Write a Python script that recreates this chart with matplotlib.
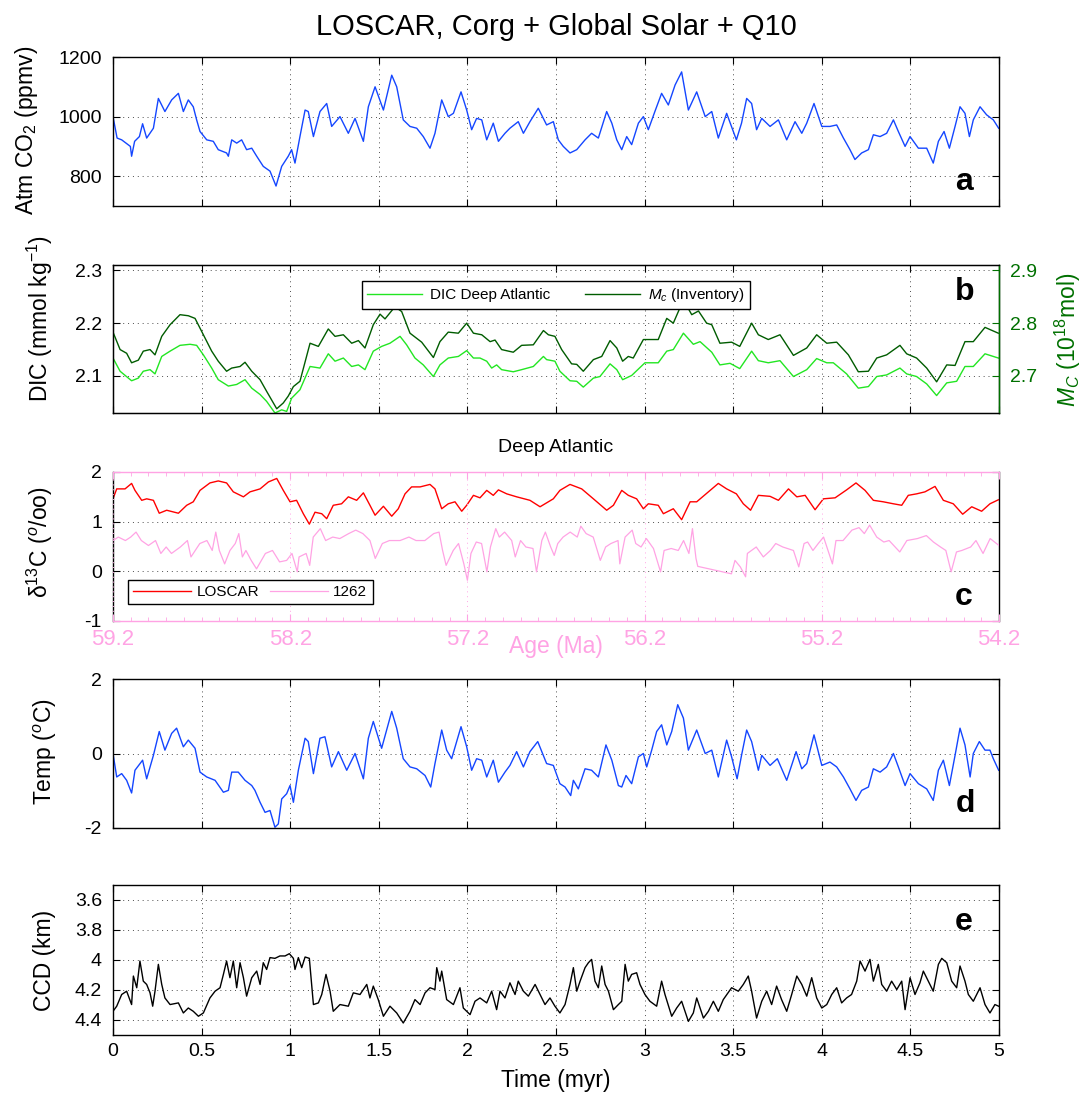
"""LOSCAR run (Corg + Global Solar + Q10): five stacked time-series panels.
Run: python plot.py  -> out.png"""
import matplotlib
matplotlib.use("Agg")
import matplotlib.pyplot as plt
from matplotlib.ticker import FormatStrFormatter, MultipleLocator

plt.rcParams.update({
    "font.family": ["Liberation Sans", "DejaVu Sans"],
    "mathtext.fontset": "custom", "mathtext.rm": "Liberation Sans",
    "mathtext.it": "Liberation Sans:italic", "mathtext.bf": "Liberation Sans:bold",
    "axes.unicode_minus": False,
})
BLUE, LGREEN, DGREEN, AXGREEN = "#1446ff", "#22e622", "#005c00", "#007000"
RED, PINK = "#ff0000", "#ffa3e4"

# ---- data ----
TIME_TICKS = [0, 0.5, 1, 1.5, 2, 2.5, 3, 3.5, 4, 4.5, 5]
AGE_TICKS = [59.2, 58.2, 57.2, 56.2, 55.2, 54.2]

co2_time = [0.000, 0.023, 0.049, 0.098, 0.105, 0.122, 0.149, 0.167, 0.190, 0.228,
            0.256, 0.293, 0.331, 0.369, 0.397, 0.425, 0.453, 0.472, 0.491, 0.529,
            0.566, 0.594, 0.641, 0.651, 0.670, 0.698, 0.726, 0.754, 0.783, 0.811,
            0.848, 0.886, 0.920, 0.952, 0.989, 1.008, 1.027, 1.055, 1.084, 1.102,
            1.131, 1.168, 1.206, 1.234, 1.281, 1.328, 1.366, 1.413, 1.441, 1.479,
            1.526, 1.573, 1.601, 1.638, 1.676, 1.714, 1.751, 1.789, 1.817, 1.855,
            1.892, 1.921, 1.964, 1.996, 2.024, 2.052, 2.081, 2.109, 2.146, 2.175,
            2.212, 2.240, 2.287, 2.316, 2.353, 2.400,
            2.447, 2.485, 2.513, 2.541, 2.579, 2.617, 2.664, 2.701, 2.739, 2.786,
            2.815, 2.843, 2.871, 2.899, 2.927, 2.965, 2.993, 3.021, 3.058, 3.096,
            3.134, 3.172, 3.209, 3.247, 3.294, 3.342, 3.379, 3.416, 3.463, 3.518,
            3.547, 3.576, 3.604, 3.632, 3.661, 3.708, 3.755, 3.802, 3.849, 3.887,
            3.915, 3.956, 4.000, 4.046, 4.084, 4.122, 4.159, 4.187, 4.225, 4.263,
            4.291, 4.329, 4.366, 4.404, 4.432, 4.470, 4.498, 4.545, 4.592, 4.629,
            4.658, 4.690, 4.720, 4.752, 4.780, 4.808, 4.833, 4.855, 4.893, 4.930,
            4.968, 4.998]
co2 = [1000, 928, 922, 900, 867, 917, 933, 976, 928, 961,
       1061, 1017, 1056, 1078, 1017, 1056, 1033, 989, 950, 922,
       917, 889, 878, 867, 922, 911, 922, 889, 894, 867,
       833, 817, 767, 833, 867, 889, 844, 933, 1022, 1017,
       933, 1017, 1044, 967, 1000, 944, 994, 917, 1033, 1100,
       1022, 1139, 1100, 989, 967, 961, 933, 894, 944, 1056,
       1000, 1011, 1083, 1022, 956, 994, 989, 922, 978, 917,
       944, 961, 983, 944, 983, 1028,
       972, 983, 922, 900, 878, 889, 922, 944, 928, 1017,
       978, 922, 889, 933, 906, 978, 1000, 956, 1017, 1078,
       1039, 1106, 1150, 1022, 1083, 1000, 1017, 928, 1011, 922,
       978, 1061, 1044, 956, 994, 967, 989, 922, 983, 944,
       978, 1044, 967, 967, 972, 928, 889, 856, 878, 889,
       939, 933, 944, 989, 950, 900, 933, 894, 894, 844,
       917, 950, 894, 967, 1033, 1011, 933, 989, 1033, 1006,
       989, 961]

dic_time = [0.000, 0.040, 0.105, 0.143, 0.171, 0.209, 0.237, 0.275, 0.322, 0.378,
            0.435, 0.472, 0.510, 0.557, 0.594, 0.651, 0.698, 0.745, 0.783, 0.830,
            0.867, 0.914, 0.952, 0.980, 1.008, 1.055, 1.112, 1.168, 1.215, 1.253,
            1.300, 1.347, 1.385, 1.422, 1.469, 1.516, 1.563, 1.620, 1.657, 1.704,
            1.751, 1.808, 1.845, 1.892, 1.949, 1.996, 2.034, 2.071, 2.109, 2.137,
            2.165, 2.193, 2.259, 2.306, 2.372, 2.429,
            2.447, 2.494, 2.522, 2.579, 2.617, 2.654, 2.711, 2.748, 2.805, 2.843,
            2.876, 2.927, 3.002, 3.077, 3.125, 3.162, 3.219, 3.275, 3.313, 3.379,
            3.425, 3.482, 3.537, 3.604, 3.642, 3.698, 3.764, 3.840, 3.915, 3.971,
            4.028, 4.065, 4.140, 4.206, 4.263, 4.310, 4.366, 4.441, 4.479, 4.535,
            4.592, 4.648, 4.705, 4.761, 4.808, 4.855, 4.921, 4.996]
dic_deep_atl = [2.134, 2.109, 2.091, 2.096, 2.109, 2.112, 2.104, 2.137, 2.147, 2.158,
                2.160, 2.158, 2.140, 2.115, 2.093, 2.081, 2.084, 2.093, 2.077, 2.065,
                2.052, 2.030, 2.036, 2.033, 2.058, 2.074, 2.118, 2.115, 2.142, 2.128,
                2.134, 2.118, 2.121, 2.112, 2.147, 2.156, 2.162, 2.175, 2.159, 2.134,
                2.121, 2.099, 2.121, 2.134, 2.137, 2.148, 2.134, 2.134, 2.128, 2.115,
                2.121, 2.112, 2.108, 2.112, 2.118, 2.137,
                2.131, 2.128, 2.109, 2.091, 2.090, 2.079, 2.096, 2.099, 2.123, 2.112,
                2.093, 2.101, 2.125, 2.125, 2.147, 2.150, 2.181, 2.160, 2.165, 2.145,
                2.121, 2.124, 2.114, 2.147, 2.129, 2.125, 2.129, 2.099, 2.112, 2.133,
                2.125, 2.125, 2.104, 2.077, 2.080, 2.099, 2.102, 2.115, 2.104, 2.099,
                2.085, 2.063, 2.087, 2.090, 2.118, 2.118, 2.142, 2.134]

mc_time = [0.000, 0.040, 0.077, 0.105, 0.143, 0.171, 0.209, 0.237, 0.275, 0.322,
           0.378, 0.425, 0.463, 0.510, 0.557, 0.594, 0.641, 0.670, 0.717, 0.745,
           0.783, 0.830, 0.867, 0.924, 0.961, 0.989, 1.018, 1.055, 1.112, 1.159,
           1.215, 1.253, 1.300, 1.347, 1.385, 1.422, 1.469, 1.507, 1.535, 1.591,
           1.629, 1.676, 1.742, 1.808, 1.845, 1.892, 1.949, 1.996, 2.034, 2.081,
           2.128, 2.156, 2.193, 2.259, 2.306, 2.372, 2.429,
           2.457, 2.494, 2.532, 2.588, 2.617, 2.654, 2.711, 2.758, 2.805, 2.843,
           2.876, 2.908, 2.936, 2.993, 3.077, 3.125, 3.162, 3.219, 3.266, 3.304,
           3.350, 3.379, 3.425, 3.491, 3.537, 3.604, 3.642, 3.698, 3.764, 3.840,
           3.915, 3.971, 4.028, 4.084, 4.150, 4.206, 4.263, 4.310, 4.366, 4.441,
           4.479, 4.535, 4.592, 4.648, 4.705, 4.752, 4.808, 4.855, 4.921, 4.996]
mc_inventory = [2.783, 2.750, 2.743, 2.725, 2.730, 2.747, 2.750, 2.740, 2.775, 2.797,
                2.816, 2.814, 2.809, 2.778, 2.747, 2.728, 2.709, 2.715, 2.718, 2.726,
                2.709, 2.693, 2.671, 2.638, 2.649, 2.662, 2.680, 2.690, 2.762, 2.756,
                2.789, 2.775, 2.778, 2.762, 2.767, 2.753, 2.797, 2.817, 2.808, 2.831,
                2.822, 2.781, 2.764, 2.735, 2.765, 2.783, 2.781, 2.800, 2.781, 2.778,
                2.765, 2.768, 2.750, 2.745, 2.758, 2.759, 2.786,
                2.778, 2.775, 2.750, 2.723, 2.722, 2.709, 2.731, 2.737, 2.767, 2.753,
                2.728, 2.737, 2.734, 2.769, 2.769, 2.809, 2.800, 2.844, 2.816, 2.823,
                2.800, 2.797, 2.762, 2.764, 2.756, 2.800, 2.778, 2.769, 2.778, 2.739,
                2.753, 2.778, 2.762, 2.764, 2.740, 2.708, 2.709, 2.734, 2.740, 2.758,
                2.742, 2.734, 2.715, 2.689, 2.721, 2.720, 2.765, 2.765, 2.792, 2.781]

loscar_time = [0.000, 0.021, 0.068, 0.105, 0.124, 0.162, 0.190, 0.228, 0.261, 0.303,
               0.369, 0.416, 0.453, 0.491, 0.547, 0.594, 0.641, 0.679, 0.736, 0.773,
               0.830, 0.877, 0.924, 0.961, 0.999, 1.036, 1.074, 1.108, 1.140, 1.178,
               1.206, 1.243, 1.290, 1.328, 1.375, 1.413, 1.450, 1.479, 1.526, 1.573,
               1.610, 1.648, 1.685, 1.733, 1.789, 1.817, 1.855, 1.892, 1.930, 1.968,
               1.996, 2.034, 2.071, 2.109, 2.146, 2.175, 2.222, 2.278, 2.353, 2.410,
               2.485, 2.522, 2.579, 2.645, 2.711, 2.786, 2.824, 2.871, 2.908, 2.955,
               2.993, 3.021, 3.077, 3.106, 3.162, 3.209, 3.257, 3.294, 3.360, 3.416,
               3.463, 3.518, 3.557, 3.598, 3.642, 3.708, 3.755, 3.812, 3.859, 3.906,
               3.962, 4.009, 4.075, 4.140, 4.193, 4.244, 4.291, 4.347, 4.404, 4.451,
               4.488, 4.535, 4.582, 4.639, 4.686, 4.742, 4.795, 4.846, 4.902, 4.949,
               4.996]
d13c_loscar = [1.46, 1.66, 1.66, 1.77, 1.63, 1.43, 1.46, 1.43, 1.17, 1.23,
               1.17, 1.33, 1.40, 1.63, 1.78, 1.82, 1.78, 1.60, 1.50, 1.60,
               1.66, 1.80, 1.87, 1.63, 1.40, 1.43, 1.16, 0.95, 1.19, 1.16,
               1.06, 1.33, 1.36, 1.50, 1.43, 1.58, 1.33, 1.13, 1.31, 1.11,
               1.26, 1.56, 1.70, 1.70, 1.75, 1.66, 1.26, 1.36, 1.40, 1.21,
               1.33, 1.53, 1.48, 1.63, 1.53, 1.64, 1.56, 1.50, 1.43, 1.30,
               1.46, 1.63, 1.75, 1.66, 1.46, 1.23, 1.33, 1.63, 1.53, 1.46,
               1.26, 1.36, 1.33, 1.16, 1.26, 1.04, 1.40, 1.40, 1.60, 1.77,
               1.66, 1.56, 1.36, 1.23, 1.53, 1.51, 1.43, 1.66, 1.50, 1.53,
               1.24, 1.46, 1.48, 1.64, 1.78, 1.63, 1.43, 1.40, 1.36, 1.33,
               1.53, 1.56, 1.60, 1.71, 1.43, 1.36, 1.15, 1.30, 1.21, 1.36,
               1.44]

site1262_age = [59.20, 59.17, 59.13, 59.10, 59.07, 59.04, 59.00, 58.96, 58.93, 58.90,
                58.87, 58.82, 58.78, 58.76, 58.71, 58.67, 58.64, 58.62, 58.60, 58.57,
                58.54, 58.51, 58.49, 58.47, 58.45, 58.42, 58.39, 58.34, 58.30, 58.26,
                58.22, 58.19, 58.16, 58.15, 58.11, 58.09, 58.07, 58.03, 58.00, 57.96,
                57.92, 57.87, 57.83, 57.79, 57.75, 57.72, 57.68, 57.64, 57.58, 57.53,
                57.49, 57.44, 57.39, 57.36, 57.34, 57.32, 57.28, 57.25, 57.22, 57.20,
                57.18, 57.15, 57.12, 57.09, 57.07, 57.04, 57.02, 56.99, 56.95, 56.93,
                56.90, 56.87, 56.83, 56.81, 56.78, 56.76, 56.73, 56.71,
                56.69, 56.66, 56.62, 56.58, 56.56, 56.53, 56.49, 56.45, 56.42, 56.39,
                56.35, 56.34, 56.31, 56.27, 56.25, 56.22, 56.19, 56.15, 56.11, 56.09,
                56.05, 56.01, 55.98, 55.95, 55.93, 55.91, 55.90, 55.71, 55.69, 55.66,
                55.63, 55.62, 55.57, 55.53, 55.49, 55.46, 55.42, 55.36, 55.33, 55.30,
                55.28, 55.25, 55.22, 55.19, 55.14, 55.12, 55.08, 55.03, 54.99, 54.96,
                54.93, 54.89, 54.85, 54.82, 54.76, 54.72, 54.66, 54.61, 54.57, 54.53,
                54.50, 54.47, 54.44, 54.41, 54.36, 54.33, 54.29, 54.25, 54.20]
d13c_1262 = [0.62, 0.69, 0.62, 0.69, 0.79, 0.62, 0.52, 0.62, 0.36, 0.49,
             0.36, 0.49, 0.62, 0.29, 0.56, 0.62, 0.42, 0.79, 0.42, 0.15,
             0.42, 0.56, 0.76, 0.29, 0.42, 0.22, 0.05, 0.36, 0.42, 0.19,
             0.22, 0.36, -0.01, 0.29, 0.36, 0.12, 0.69, 0.86, 0.62, 0.69,
             0.66, 0.76, 0.83, 0.76, 0.62, 0.26, 0.56, 0.62, 0.62, 0.69,
             0.62, 0.62, 0.76, 0.79, 0.42, 0.12, 0.42, 0.56, 0.15, -0.18,
             0.36, 0.59, 0.56, -0.01, 0.49, 0.86, 0.69, 0.79, 0.62, 0.29,
             0.62, 0.49, 0.46, -0.01, 0.62, 0.79, 0.49, 0.32,
             0.56, 0.69, 0.79, 0.69, 0.91, 0.76, 0.69, 0.22, 0.49, 0.56,
             0.62, 0.15, 0.69, 0.83, 0.56, 0.49, 0.66, 0.46, -0.01, 0.42,
             0.46, 0.42, 0.62, 0.36, 0.86, 0.26, 0.10, -0.05, 0.22, 0.09,
             -0.11, 0.36, 0.49, 0.29, 0.42, 0.56, 0.49, 0.42, 0.09, 0.56,
             0.59, 0.42, 0.56, 0.69, 0.15, 0.62, 0.62, 0.83, 0.88, 0.76,
             0.93, 0.69, 0.59, 0.62, 0.39, 0.62, 0.66, 0.72, 0.59, 0.49,
             0.42, -0.01, 0.39, 0.42, 0.49, 0.62, 0.36, 0.66, 0.52]

temp_time = [0.000, 0.021, 0.049, 0.077, 0.105, 0.124, 0.167, 0.190, 0.228, 0.261,
             0.293, 0.331, 0.359, 0.397, 0.425, 0.463, 0.491, 0.529, 0.576, 0.623,
             0.651, 0.670, 0.707, 0.745, 0.783, 0.801, 0.830, 0.858, 0.886, 0.914,
             0.933, 0.952, 0.980, 0.999, 1.018, 1.046, 1.084, 1.102, 1.131, 1.168,
             1.196, 1.234, 1.272, 1.319, 1.366, 1.413, 1.441, 1.469, 1.516, 1.573,
             1.601, 1.638, 1.676, 1.714, 1.761, 1.793, 1.817, 1.855, 1.883, 1.911,
             1.939, 1.964, 1.996, 2.024, 2.052, 2.081, 2.109, 2.146, 2.175, 2.212,
             2.240, 2.278, 2.316, 2.353, 2.397,
             2.447, 2.485, 2.522, 2.551, 2.583, 2.598, 2.626, 2.664, 2.701, 2.739,
             2.782, 2.815, 2.852, 2.871, 2.895, 2.927, 2.965, 2.993, 3.012, 3.040,
             3.068, 3.096, 3.125, 3.153, 3.187, 3.219, 3.247, 3.294, 3.342, 3.379,
             3.416, 3.463, 3.491, 3.522, 3.547, 3.576, 3.604, 3.642, 3.661, 3.708,
             3.749, 3.802, 3.855, 3.887, 3.915, 3.956, 4.000, 4.046, 4.084, 4.122,
             4.159, 4.193, 4.225, 4.263, 4.291, 4.329, 4.366, 4.404, 4.432, 4.470,
             4.498, 4.545, 4.592, 4.629, 4.658, 4.686, 4.720, 4.752, 4.780, 4.808,
             4.837, 4.855, 4.889, 4.921, 4.949, 4.968, 4.998]
temp = [0.00, -0.63, -0.54, -0.72, -1.06, -0.45, -0.18, -0.68, -0.05, 0.59,
        0.09, 0.54, 0.68, 0.18, 0.36, 0.14, -0.50, -0.63, -0.72, -1.04,
        -0.99, -0.50, -0.50, -0.72, -0.86, -0.99, -1.31, -1.58, -1.53, -1.98,
        -1.89, -1.22, -1.08, -0.86, -1.31, -0.45, 0.41, 0.32, -0.54, 0.41,
        0.45, -0.36, 0.05, -0.45, 0.00, -0.68, 0.41, 0.86, 0.14, 1.13,
        0.68, -0.14, -0.36, -0.41, -0.59, -0.90, -0.27, 0.63, 0.09, -0.14,
        0.32, 0.72, 0.18, -0.45, -0.14, -0.18, -0.63, -0.18, -0.77, -0.50,
        -0.32, 0.05, -0.36, 0.05, 0.32,
        -0.27, -0.32, -0.81, -0.90, -1.13, -0.72, -0.95, -0.41, -0.45, -0.63,
        0.23, -0.18, -0.86, -0.90, -0.59, -0.81, -0.09, 0.00, -0.36, 0.09,
        0.59, 0.77, 0.23, 0.59, 1.31, 0.95, 0.09, 0.63, 0.00, 0.09,
        -0.63, 0.36, -0.09, -0.68, -0.05, 0.63, 0.32, -0.45, -0.05, -0.32,
        -0.14, -0.72, 0.05, -0.41, -0.27, 0.50, -0.32, -0.23, -0.36, -0.63,
        -0.95, -1.26, -0.99, -0.90, -0.41, -0.50, -0.36, 0.00, -0.36, -0.86,
        -0.54, -0.81, -0.95, -1.26, -0.45, -0.18, -0.86, -0.05, 0.68, 0.23,
        -0.63, 0.00, 0.32, 0.09, 0.09, -0.14, -0.45]

ccd_time = [0.000, 0.021, 0.049, 0.077, 0.105, 0.115, 0.134, 0.152, 0.171, 0.190,
            0.209, 0.224, 0.237, 0.256, 0.275, 0.293, 0.322, 0.369, 0.397, 0.425,
            0.453, 0.482, 0.510, 0.547, 0.576, 0.604, 0.623, 0.641, 0.660, 0.679,
            0.698, 0.717, 0.736, 0.754, 0.783, 0.811, 0.830, 0.848, 0.867, 0.886,
            0.914, 0.942, 0.971, 0.995, 1.018, 1.027, 1.046, 1.065, 1.084, 1.108,
            1.131, 1.159, 1.178, 1.202, 1.225, 1.243, 1.281, 1.328, 1.356, 1.394,
            1.432, 1.450, 1.469, 1.497, 1.526, 1.563, 1.601, 1.638, 1.676, 1.704,
            1.733, 1.761, 1.789, 1.817, 1.827, 1.845, 1.855, 1.883, 1.921, 1.958,
            1.977, 2.015, 2.043, 2.071, 2.109, 2.137, 2.165, 2.184, 2.212, 2.240,
            2.269, 2.287, 2.316, 2.344, 2.382,
            2.438, 2.466, 2.494, 2.522, 2.551, 2.579, 2.598, 2.617, 2.636, 2.664,
            2.683, 2.701, 2.720, 2.739, 2.758, 2.777, 2.796, 2.824, 2.852, 2.871,
            2.890, 2.908, 2.927, 2.955, 2.974, 3.002, 3.030, 3.068, 3.096, 3.115,
            3.153, 3.181, 3.209, 3.247, 3.275, 3.294, 3.332, 3.360, 3.388, 3.416,
            3.444, 3.491, 3.529, 3.557, 3.585, 3.604, 3.632, 3.661, 3.689, 3.717,
            3.745, 3.773, 3.802, 3.830, 3.859, 3.887, 3.915, 3.943, 3.971, 4.000,
            4.028, 4.056, 4.084, 4.112, 4.140, 4.168, 4.197, 4.216, 4.244, 4.272,
            4.291, 4.319, 4.338, 4.366, 4.394, 4.423, 4.451, 4.470, 4.498, 4.526,
            4.554, 4.573, 4.601, 4.629, 4.658, 4.677, 4.705, 4.733, 4.761, 4.780,
            4.808, 4.827, 4.855, 4.893, 4.921, 4.949, 4.977, 4.998]
ccd = [4.342, 4.308, 4.230, 4.208, 4.297, 4.107, 4.185, 4.007, 4.141, 4.163,
       4.219, 4.308, 4.208, 4.029, 4.163, 4.253, 4.297, 4.286, 4.353, 4.320,
       4.342, 4.375, 4.353, 4.253, 4.208, 4.185, 4.096, 4.007, 4.118, 4.007,
       4.185, 4.018, 4.118, 4.241, 4.118, 4.074, 4.163, 4.018, 4.063, 3.984,
       3.989, 3.973, 3.973, 3.958, 3.989, 4.063, 3.984, 4.051, 3.980, 3.989,
       4.297, 4.286, 4.230, 4.096, 4.208, 4.342, 4.297, 4.308, 4.219, 4.230,
       4.163, 4.253, 4.174, 4.264, 4.375, 4.308, 4.353, 4.420, 4.342, 4.264,
       4.297, 4.219, 4.185, 4.197, 4.051, 4.141, 4.074, 4.264, 4.297, 4.185,
       4.320, 4.364, 4.275, 4.253, 4.286, 4.208, 4.331, 4.208, 4.253, 4.152,
       4.230, 4.141, 4.208, 4.241, 4.163,
       4.297, 4.253, 4.308, 4.353, 4.297, 4.163, 4.051, 4.208, 4.141, 4.051,
       4.018, 3.996, 4.141, 4.185, 4.040, 4.163, 4.208, 4.331, 4.297, 4.275,
       4.029, 4.141, 4.096, 4.085, 4.163, 4.230, 4.275, 4.308, 4.141, 4.230,
       4.375, 4.320, 4.275, 4.409, 4.353, 4.253, 4.387, 4.342, 4.275, 4.342,
       4.264, 4.185, 4.208, 4.163, 4.107, 4.208, 4.387, 4.275, 4.208, 4.297,
       4.174, 4.264, 4.342, 4.230, 4.107, 4.163, 4.241, 4.118, 4.253, 4.320,
       4.297, 4.230, 4.185, 4.286, 4.253, 4.230, 4.141, 4.007, 4.074, 3.996,
       4.141, 4.029, 4.163, 4.208, 4.141, 4.197, 4.141, 4.331, 4.118, 4.230,
       4.152, 4.074, 4.141, 4.208, 4.029, 3.989, 4.018, 4.141, 4.185, 4.040,
       4.141, 4.230, 4.275, 4.185, 4.297, 4.353, 4.297, 4.308]

# ---- layout (pixel boxes of the original 1083x1099 figure) ----
W, H = 1083, 1099
LEFT, WIDTH = 113, 886
GRID = dict(color="0.3", linestyle=(0, (1, 4)), linewidth=0.7)


def box(top, bottom):
    return [LEFT / W, 1 - bottom / H, WIDTH / W, (bottom - top) / H]


def style(ax, bottom_labels=False):
    ax.set_xlim(0, 5)
    ax.set_xticks(TIME_TICKS)
    ax.xaxis.set_major_formatter(FormatStrFormatter("%g"))
    ax.yaxis.set_major_formatter(FormatStrFormatter("%g"))
    ax.tick_params(direction="in", top=True, right=True, length=5, width=0.8,
                   labelsize=14, labelbottom=bottom_labels)
    ax.tick_params(axis="y", pad=8)
    ax.tick_params(axis="x", pad=6)
    for s in ax.spines.values():
        s.set_linewidth(1.0)


def ylab(x, y, text, **kw):
    fig.text(x / W, 1 - y / H, text, rotation=90, ha="center", va="center",
             fontsize=16.5, **kw)


def letter(x, y, s):
    fig.text(x / W, 1 - y / H, s, ha="center", va="baseline", fontsize=23, fontweight="bold")


fig = plt.figure(figsize=(W / 100, H / 100), dpi=100)

# a: atmospheric CO2
ax_a = fig.add_axes(box(57, 206))
ax_a.plot(co2_time, co2, color=BLUE, lw=1.0)
ax_a.set_ylim(700, 1200); ax_a.set_yticks([800, 1000, 1200])
style(ax_a); ax_a.grid(True, **GRID)

# b: DIC deep Atlantic + carbon inventory (right axis)
ax_b = fig.add_axes(box(265, 413))
l_dic, = ax_b.plot(dic_time, dic_deep_atl, color=LGREEN, lw=1.0)
ax_b.set_ylim(2.03, 2.31); ax_b.set_yticks([2.1, 2.2, 2.3])
style(ax_b); ax_b.tick_params(right=False); ax_b.grid(True, **GRID)
ax_b2 = ax_b.twinx()
l_mc, = ax_b2.plot(mc_time, mc_inventory, color=DGREEN, lw=1.0)
ax_b2.set_ylim(2.63, 2.91); ax_b2.set_yticks([2.7, 2.8, 2.9])
ax_b2.yaxis.set_major_formatter(FormatStrFormatter("%g"))
ax_b2.tick_params(direction="in", length=5, width=0.8, labelsize=14, pad=8,
                  colors=AXGREEN)
ax_b2.spines["right"].set_color(AXGREEN); ax_b2.spines["right"].set_linewidth(1.0)
ax_b2.legend([l_dic, l_mc], ["DIC Deep Atlantic", "$M_c$ (Inventory)"],
             loc="upper center", bbox_to_anchor=(0.5, 0.945), ncol=2, fontsize=11,
             fancybox=False, edgecolor="k", framealpha=1, handlelength=3.6,
             handletextpad=0.5, columnspacing=2.3, borderpad=0.35)

# c: deep Atlantic d13C, model vs Site 1262 on an age axis
ax_c = fig.add_axes(box(472, 621))
l_los, = ax_c.plot(loscar_time, d13c_loscar, color=RED, lw=1.0)
ax_c.set_ylim(-1, 2); ax_c.set_yticks([-1, 0, 1, 2])
style(ax_c)
ax_c.tick_params(axis="x", top=False, bottom=False)
ax_c.spines["top"].set_visible(False); ax_c.spines["bottom"].set_visible(False)
ax_c.grid(True, axis="y", **GRID)
ax_age = fig.add_axes(box(472, 621), facecolor="none")
l_1262, = ax_age.plot(site1262_age, d13c_1262, color=PINK, lw=0.9)
ax_age.set_xlim(59.2, 54.2); ax_age.set_ylim(-1, 2)
ax_age.set_xticks(AGE_TICKS)
ax_age.xaxis.set_major_formatter(FormatStrFormatter("%.1f"))
ax_age.xaxis.set_minor_locator(MultipleLocator(0.1))
ax_age.tick_params(axis="x", which="both", direction="in", top=True, bottom=True,
                   colors=PINK, labelsize=16, pad=6)
ax_age.tick_params(axis="x", which="major", length=5)
ax_age.tick_params(axis="x", which="minor", length=3)
ax_age.tick_params(axis="y", left=False, right=False, labelleft=False)
ax_age.spines["left"].set_visible(False); ax_age.spines["right"].set_visible(False)
for s in ("top", "bottom"):
    ax_age.spines[s].set_color(PINK); ax_age.spines[s].set_linewidth(1.0)
ax_age.grid(True, axis="x", color=PINK, linestyle=(0, (1, 4)), linewidth=0.7)
ax_age.text(0.5, -0.174, "Age (Ma)", transform=ax_age.transAxes, ha="center",
            va="center", color=PINK, fontsize=16.5)
ax_age.legend([l_los, l_1262], ["LOSCAR", "1262"], loc="lower left",
              bbox_to_anchor=(0.008, 0.06), ncol=2, fontsize=11, fancybox=False,
              edgecolor="k", framealpha=1, handlelength=3.8, handletextpad=0.35,
              columnspacing=0.7, borderpad=0.35)

# d: temperature anomaly
ax_d = fig.add_axes(box(679, 828))
ax_d.plot(temp_time, temp, color=BLUE, lw=1.0)
ax_d.set_ylim(-2, 2); ax_d.set_yticks([-2, 0, 2])
style(ax_d); ax_d.grid(True, **GRID)

# e: CCD (depth axis reversed)
ax_e = fig.add_axes(box(885, 1035))
ax_e.plot(ccd_time, ccd, color="k", lw=1.0)
ax_e.set_ylim(4.5, 3.5); ax_e.set_yticks([3.6, 3.8, 4.0, 4.2, 4.4])
style(ax_e, bottom_labels=True); ax_e.grid(True, **GRID)

# titles, labels, panel letters
fig.text(556 / W, 1 - 27 / H, "LOSCAR, Corg + Global Solar + Q10", ha="center",
         va="center", fontsize=21)
fig.text(556 / W, 1 - 448 / H, "Deep Atlantic", ha="center", va="center", fontsize=14)
fig.text(556 / W, 1 - 1080 / H, "Time (myr)", ha="center", va="center", fontsize=16.5)
ylab(27, 130, "Atm CO$_2$ (ppmv)")
ylab(40, 318, "DIC (mmol kg$^{-1}$)")
ylab(40, 542, "δ$^{13}$C ($^o$/oo)")
ylab(45, 752, "Temp ($^o$C)")
ylab(45, 960, "CCD (km)")
ylab(1068, 340, "$M_C$ (10$^{18}$mol)", color=AXGREEN)
letter(964, 190, "a")
letter(965, 300, "b")
letter(964, 605, "c")
letter(965, 812, "d")
letter(964, 930, "e")

fig.savefig("out.png", dpi=100)
